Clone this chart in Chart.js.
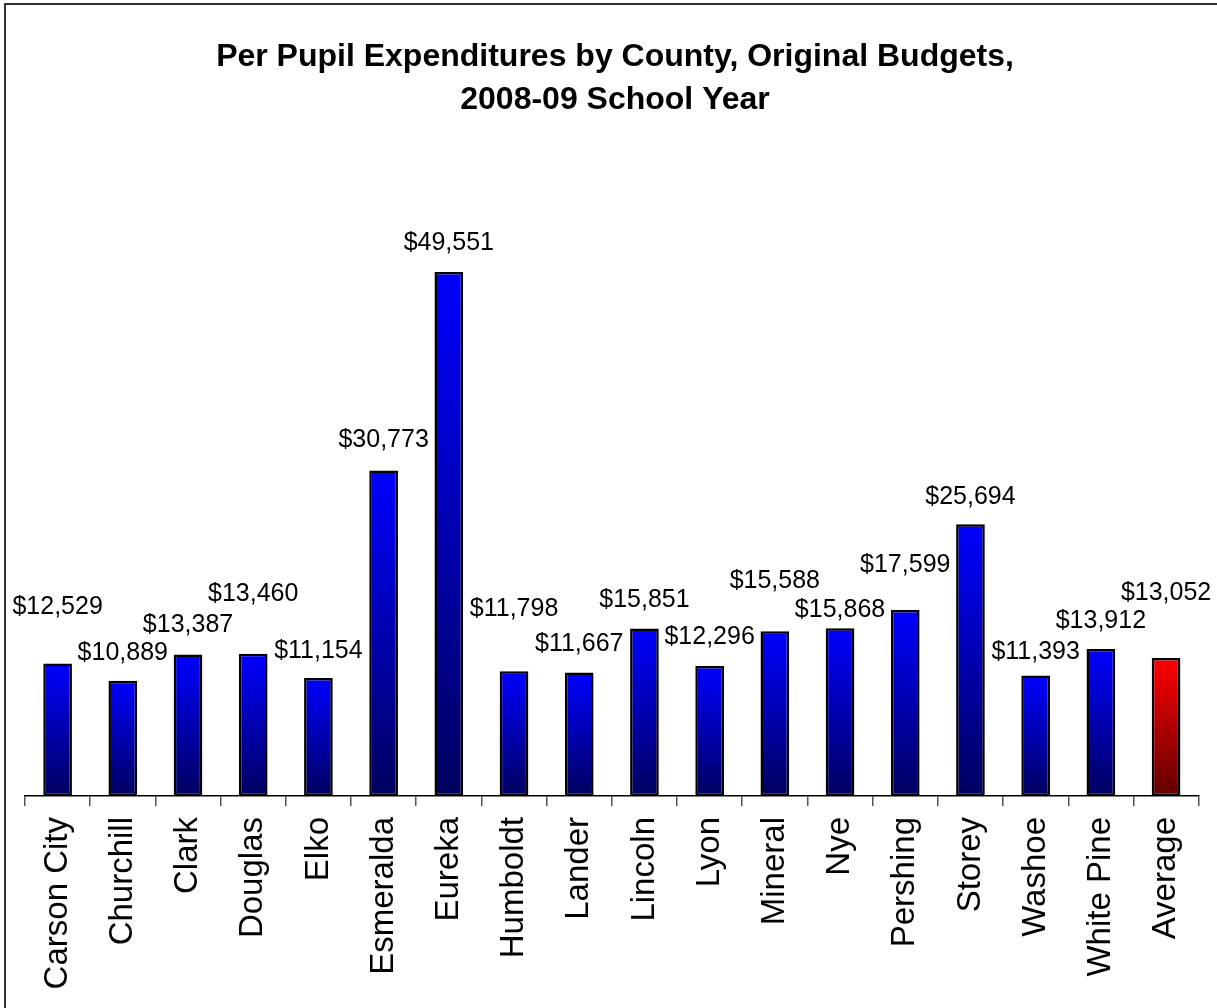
<!DOCTYPE html>
<html>
<head>
<meta charset="utf-8">
<script src="https://cdn.jsdelivr.net/npm/chart.js@4/dist/chart.umd.min.js"></script>
<style>
  html, body { margin: 0; padding: 0; background: #fff; }
  #wrap { width: 1217px; height: 1008px; position: relative; }
</style>
</head>
<body>
<div id="wrap"><canvas id="chart" width="1217" height="1008"></canvas></div>
<script>
// Data
const counties = ['Carson City', 'Churchill', 'Clark', 'Douglas', 'Elko', 'Esmeralda', 'Eureka',
  'Humboldt', 'Lander', 'Lincoln', 'Lyon', 'Mineral', 'Nye', 'Pershing', 'Storey', 'Washoe',
  'White Pine', 'Average'];
const perPupil = [12529, 10889, 13387, 13460, 11154, 30773, 49551, 11798, 11667, 15851, 12296,
  15588, 15868, 17599, 25694, 11393, 13912, 13052];
const titleLines = ['Per Pupil Expenditures by County, Original Budgets,', '2008-09 School Year'];
const yMax = 60000;

// How far above the bar top each value label sits (px), staggered like the original
const labelLift = [56, 28, 29, 60, 27, 30, 29, 62, 29, 28, 29, 50, 18, 45, 27, 23, 28, 65];

const FONT = "'Liberation Sans', Arial, sans-serif";

function money(v) {
  return '$' + v.toLocaleString('en-US');
}

// Per-bar vertical gradient (bright at top, dark at base)
function barFill(ctx) {
  const chart = ctx.chart;
  if (!chart.chartArea || ctx.raw === undefined) return '#0000ff';
  const y = chart.scales.y;
  const top = y.getPixelForValue(ctx.raw);
  const bottom = y.getPixelForValue(0);
  const g = chart.ctx.createLinearGradient(0, top, 0, bottom);
  const isAvg = counties[ctx.dataIndex] === 'Average';
  g.addColorStop(0, isAvg ? '#ff0000' : '#0000ff');
  g.addColorStop(1, isAvg ? '#600000' : '#000060');
  return g;
}

// Frame around the chart (only left and top edges fall inside the picture)
const framePlugin = {
  id: 'frame',
  beforeDraw(chart) {
    const c = chart.ctx;
    c.save();
    c.strokeStyle = '#333';
    c.lineWidth = 2;
    c.beginPath();
    c.moveTo(5, chart.height);
    c.lineTo(5, 4);
    c.lineTo(chart.width, 4);
    c.stroke();
    c.restore();
  }
};

// Value labels above bars
const valueLabels = {
  id: 'valueLabels',
  afterDatasetsDraw(chart) {
    const c = chart.ctx;
    const meta = chart.getDatasetMeta(0);
    c.save();
    c.font = '25px ' + FONT;
    c.fillStyle = '#000';
    c.textAlign = 'center';
    c.textBaseline = 'middle';
    meta.data.forEach((bar, i) => {
      c.fillText(money(perPupil[i]), bar.x, bar.y - labelLift[i]);
    });
    c.restore();
  }
};

const ctx = document.getElementById('chart').getContext('2d');
new Chart(ctx, {
  type: 'bar',
  data: {
    labels: counties,
    datasets: [{
      data: perPupil,
      backgroundColor: barFill,
      borderColor: '#000',
      borderWidth: 2.5,
      borderSkipped: false,
      barPercentage: 0.44,
      categoryPercentage: 1
    }]
  },
  options: {
    responsive: false,
    animation: false,
    events: [],
    layout: { padding: { left: 25, right: 12, top: 0, bottom: 0 } },
    plugins: {
      legend: { display: false },
      tooltip: { enabled: false },
      title: {
        display: true,
        text: titleLines,
        color: '#000',
        font: { family: FONT, size: 32, weight: 'bold', lineHeight: 1.35 },
        padding: { top: 35.4, bottom: 39.7 }
      }
    },
    scales: {
      y: {
        display: false,
        min: 0,
        max: yMax
      },
      x: {
        afterFit(scale) { scale.height = 212; },
        grid: {
          offset: true,
          drawOnChartArea: false,
          drawTicks: true,
          tickLength: 10,
          color: '#555',
          lineWidth: 1.5
        },
        border: { display: true, color: '#000', width: 1.5 },
        ticks: {
          minRotation: 90,
          maxRotation: 90,
          autoSkip: false,
          padding: 11,
          color: '#000',
          font: { family: FONT, size: 33 }
        }
      }
    }
  },
  plugins: [framePlugin, valueLabels]
});
</script>
</body>
</html>
